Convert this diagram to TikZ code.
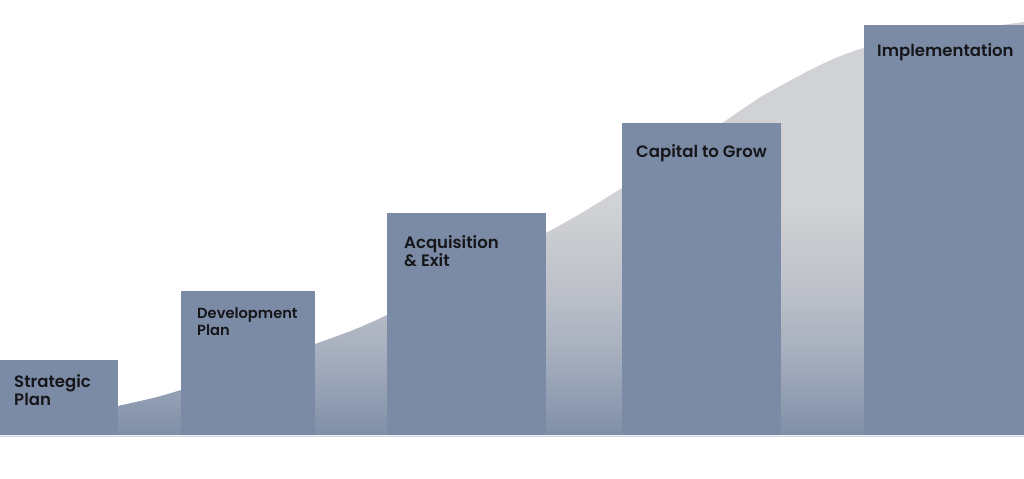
\documentclass[tikz,border=0pt]{standalone}
\usepackage{fontspec}
\newfontfamily\popfont{Poppins}[UprightFont={* SemiBold}]
\usetikzlibrary{positioning}

\definecolor{barblue}{RGB}{123,139,165}
\definecolor{curvegrey}{RGB}{209,210,213}
\definecolor{curveupper}{RGB}{192,195,202}
\definecolor{curvemid}{RGB}{170,178,192}
\definecolor{curvelow}{RGB}{128,143,168}
\definecolor{baseedge}{RGB}{206,214,226}
\definecolor{labelink}{RGB}{22,22,26}

\pgfdeclareverticalshading{risefade}{100bp}{color(0bp)=(curvelow); color(25bp)=(curvelow); color(36bp)=(curvemid); color(44bp)=(curveupper); color(53bp)=(curvegrey); color(100bp)=(curvegrey)}

\tikzset{
  stepbar/.style={fill=barblue, draw=none},
  steplabel/.style={anchor=base west, inner sep=0pt, align=left, text=labelink,
    font=\popfont\fontsize{14.1}{15.3}\selectfont},
}

\begin{document}
\begin{tikzpicture}[x=0.03cm, y=-0.03cm, line join=round, line cap=round]
  \useasboundingbox (0,0) rectangle (1024,479);
  % rising curve behind the steps
  \shade[shading=risefade] (0,435) -- plot[smooth] coordinates {(0,432) (118,406) (181,390) (315,344) (387,315) (546,233) (622,188) (722,123) (773,90) (864,48) (1024,22)} -- (1024,435) -- cycle;
  % light edge under the base
  \draw[baseedge, line width=1.2pt, line cap=butt] (0,436.3) -- (1024,436.3);
  % the five steps
  \foreach \l/\r/\t in {0/118/360, 181/315/291, 387/546/213, 622/781/123, 864/1024/25}{
    \fill[stepbar] (\l,\t) rectangle (\r,435);
  }
  % labels (base = last line)
  \node[steplabel] (strategic) at (14,405) {Strategic\\Plan};
  \node[steplabel, font=\popfont\fontsize{12.5}{14.5}\selectfont] (development) at (197,335) {Development\\Plan};
  \node[steplabel] (acquisition) at (404,266) {Acquisition\\\& Exit};
  \node[steplabel] (capital) at (636,158) {Capital to Grow};
  \node[steplabel] (implementation) at (877,57) {Implementation};
\end{tikzpicture}
\end{document}
